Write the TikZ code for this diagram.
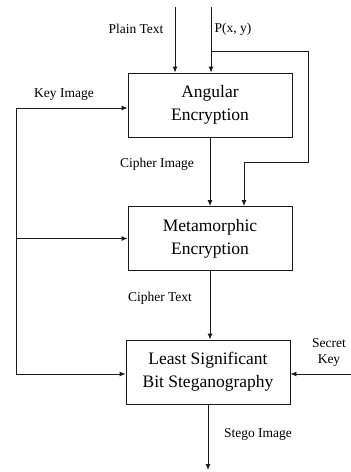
\documentclass[tikz,border=0pt]{standalone}
\usepackage{fontspec}
\setmainfont{Liberation Serif}
\usetikzlibrary{arrows.meta,positioning}
\definecolor{stInk}{HTML}{1A1A1A}

\begin{document}
\begin{tikzpicture}[x=1pt,y=-1pt,
  stage/.style={draw=stInk,line width=0.9pt,align=center,
    minimum width=164pt,minimum height=64pt,inner sep=2pt,
    font=\fontsize{17.5}{23}\selectfont},
  tag/.style={font=\fontsize{13.5}{16}\selectfont,inner sep=0pt},
  flow/.style={draw=stInk,line width=0.9pt,-{Latex[length=6pt,width=5pt]}},
  wire/.style={draw=stInk,line width=0.9pt}]
  \useasboundingbox (0,0) rectangle (351,472);

  % blocks
  \node[stage] (ang)  at (210,105) {Angular\\Encryption};
  \node[stage] (meta) at (210,238.5) {Metamorphic\\Encryption};
  \node[stage] (lsb)  at (208,372) {Least Significant\\Bit Steganography};

  % free ends and bends
  \coordinate (ptin)   at (175,7);
  \coordinate (pin)    at (211,7);
  \coordinate (split)  at (308,51);
  \coordinate (turn)   at (244,162);
  \coordinate (keytop) at (16,108);
  \coordinate (keybot) at (16,374);
  \coordinate (skey)   at (351,374);
  \coordinate (stego)  at (210,470);

  % labels
  \node[tag] (lplain)  at (136,29)  {Plain Text};
  \node[tag] (lpxy)    at (233,29)  {P(x, y)};
  \node[tag] (lkey)    at (64,95)   {Key Image};
  \node[tag] (lcimg)   at (157,164) {Cipher Image};
  \node[tag] (lctext)  at (160,298) {Cipher Text};
  \node[tag,align=center] (lsecret) at (329,352)
    {Secret\\Key};
  \node[tag] (lstego)  at (258,434) {Stego Image};

  % connectors
  \draw[flow] (ptin) -- (ptin |- ang.north);
  \draw[flow] (pin) -- (pin |- ang.north);
  \draw[flow] (pin |- split) -- (split) -- (split |- turn)
    -- (turn) -- (turn |- meta.north);
  \draw[flow] (ang.south) -- (meta.north);
  \draw[flow] (keybot) -- (keytop) -- (keytop -| ang.west);
  \draw[flow] (keytop |- meta.west) -- (meta.west);
  \draw[flow] (keybot) -- (keybot -| lsb.west);
  \draw[flow] (meta.south) -- (meta.south |- lsb.north);
  \draw[flow] (skey) -- (skey -| lsb.east);
  \draw[flow] (lsb.south) -- (lsb.south |- stego);
\end{tikzpicture}
\end{document}
